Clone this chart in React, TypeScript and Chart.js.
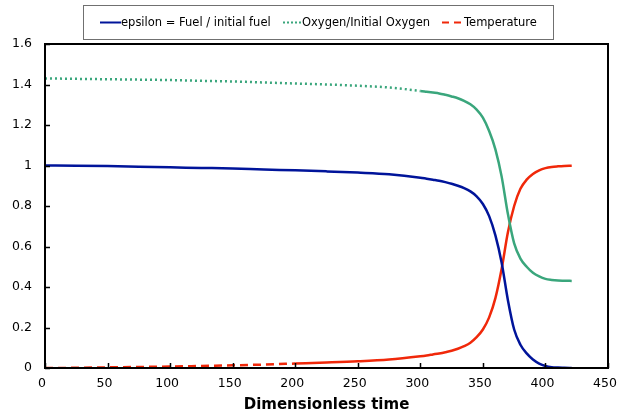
import React, { useEffect, useRef } from "react";
import { Chart, registerables } from "chart.js";

Chart.register(...registerables);

// ---- data ----
const times = [0, 25, 50, 75, 100, 125, 150, 175, 200, 225, 250, 275, 300, 305, 310, 315, 320, 325, 330, 335, 340, 345, 350, 355, 360, 365, 370, 375, 380, 385, 390, 395, 400, 405, 410, 415, 421];
const fuel = [1.0, 0.999, 0.997, 0.994, 0.991, 0.988, 0.985, 0.98, 0.976, 0.971, 0.965, 0.957, 0.94, 0.935, 0.93, 0.925, 0.918, 0.91, 0.9, 0.888, 0.872, 0.848, 0.81, 0.75, 0.655, 0.52, 0.335, 0.19, 0.115, 0.072, 0.042, 0.022, 0.01, 0.004, 0.002, 0.001, 0.0];
const oxygen = [1.43, 1.428, 1.426, 1.424, 1.422, 1.418, 1.415, 1.41, 1.405, 1.4, 1.394, 1.385, 1.368, 1.364, 1.36, 1.356, 1.349, 1.341, 1.332, 1.319, 1.302, 1.276, 1.236, 1.17, 1.08, 0.945, 0.76, 0.615, 0.54, 0.5, 0.47, 0.452, 0.44, 0.435, 0.432, 0.431, 0.43];
const temperature = [0, 0.001, 0.003, 0.005, 0.007, 0.01, 0.013, 0.017, 0.022, 0.027, 0.033, 0.042, 0.058, 0.062, 0.067, 0.072, 0.078, 0.085, 0.095, 0.108, 0.125, 0.152, 0.19, 0.25, 0.345, 0.49, 0.67, 0.8, 0.885, 0.93, 0.958, 0.976, 0.987, 0.993, 0.996, 0.998, 0.999];

const seriesLabels = ["epsilon = Fuel / initial fuel", "Oxygen/Initial Oxygen", "Temperature"];
const xTitle = "Dimensionless time";
const xMin = 0, xMax = 450, xStep = 50;
const yMin = 0, yMax = 1.6, yStep = 0.2;

const BLUE = "#00149a";
const GREEN = "#3aa67c";
const RED = "#f0280a";

const frameAndLegend = {
  id: "frameAndLegend",
  afterDraw(chart: any) {
    const ctx = chart.ctx;
    const a = chart.chartArea;
    const xs = chart.scales.x;
    const ys = chart.scales.y;
    ctx.save();
    // inside tick marks
    ctx.strokeStyle = "#000";
    ctx.lineWidth = 1.5;
    ctx.beginPath();
    xs.ticks.forEach((t: any) => {
      const px = Math.round(xs.getPixelForValue(t.value)) + 0.5;
      ctx.moveTo(px, a.bottom);
      ctx.lineTo(px, a.bottom - 5);
    });
    ys.ticks.forEach((t: any) => {
      const py = Math.round(ys.getPixelForValue(t.value)) + 0.5;
      ctx.moveTo(a.left, py);
      ctx.lineTo(a.left + 5, py);
    });
    ctx.stroke();
    // frame
    ctx.lineWidth = 2;
    ctx.strokeRect(a.left, a.top, a.right - a.left, a.bottom - a.top);

    // legend
    const lx = 83.5, ly = 5.5, lw = 470, lh = 34;
    ctx.fillStyle = "#fff";
    ctx.fillRect(lx, ly, lw, lh);
    ctx.strokeStyle = "#707070";
    ctx.lineWidth = 1;
    ctx.strokeRect(lx, ly, lw, lh);
    const items = [
      { x0: 100, x1: 121, tx: 121, color: BLUE, dash: [] as number[], w: 2 },
      { x0: 283, x1: 302, tx: 302, color: GREEN, dash: [2, 2], w: 2 },
      { x0: 442, x1: 461, tx: 464, color: RED, dash: [7, 5], w: 2 },
    ];
    const cy = 22.5;
    ctx.font = "11.5px 'DejaVu Sans'";
    ctx.textBaseline = "middle";
    ctx.textAlign = "left";
    items.forEach((it, i) => {
      ctx.strokeStyle = it.color;
      ctx.lineWidth = it.w;
      ctx.setLineDash(it.dash);
      ctx.beginPath();
      ctx.moveTo(it.x0, cy);
      ctx.lineTo(it.x1, cy);
      ctx.stroke();
      ctx.setLineDash([]);
      ctx.fillStyle = "#000";
      ctx.fillText(seriesLabels[i], it.tx, cy + 0.5);
    });
    ctx.restore();
  },
};

export default function App() {
  const ref = useRef<HTMLCanvasElement | null>(null);
  useEffect(() => {
    if (!ref.current) return;
    const mk = (vals: number[]) => times.map((t, i) => ({ x: t, y: vals[i] }));
    const chart = new Chart(ref.current, {
      type: "line",
      data: {
        datasets: [
          {
            label: seriesLabels[0],
            data: mk(fuel),
            borderColor: BLUE,
            borderWidth: 2.5,
            pointRadius: 0,
            cubicInterpolationMode: "monotone",
          },
          {
            label: seriesLabels[1],
            data: mk(oxygen),
            borderColor: GREEN,
            borderWidth: 2.5,
            pointRadius: 0,
            cubicInterpolationMode: "monotone",
            segment: {
              borderDash: (c: any) => (c.p0.parsed.x < 285 ? [2, 3] : []),
            },
          },
          {
            label: seriesLabels[2],
            data: mk(temperature),
            borderColor: RED,
            borderWidth: 2.5,
            pointRadius: 0,
            cubicInterpolationMode: "monotone",
            segment: {
              borderDash: (c: any) => (c.p0.parsed.x < 200 ? [8, 5] : []),
            },
          },
        ],
      },
      options: {
        responsive: false,
        animation: false,
        layout: { padding: { top: 44, right: 10, left: 0, bottom: 0 } },
        plugins: { legend: { display: false }, tooltip: { enabled: false } },
        scales: {
          x: {
            type: "linear",
            min: xMin,
            max: xMax,
            grid: { display: false, drawTicks: false },
            border: { display: false },
            ticks: {
              stepSize: xStep,
              color: "#000",
              padding: 8,
              labelOffset: -3,
              font: { family: "'DejaVu Sans'", size: 12.5 },
              maxRotation: 0,
            },
            title: {
              display: true,
              text: xTitle,
              color: "#000",
              font: { family: "'DejaVu Sans'", size: 15, weight: "bold" },
              padding: { top: 0, bottom: 0 },
            },
            afterFit: (s: any) => {
              s.height = 46;
              s.paddingLeft = 0;
              s.paddingRight = 0;
            },
          },
          y: {
            min: yMin,
            max: yMax,
            grid: { display: false, drawTicks: false },
            border: { display: false },
            ticks: {
              stepSize: yStep,
              color: "#000",
              padding: 13,
              font: { family: "'DejaVu Sans'", size: 12.5 },
              callback: (v: any) => String(Number(Number(v).toFixed(1))),
            },
            afterFit: (s: any) => {
              s.width = 45;
              s.paddingTop = 0;
              s.paddingBottom = 0;
            },
          },
        },
      },
      plugins: [frameAndLegend],
    });
    return () => chart.destroy();
  }, []);
  return (
    <div style={{ position: "absolute", left: 0, top: 0, width: 618, height: 414, background: "#fff" }}>
      <canvas ref={ref} width={618} height={414} />
    </div>
  );
}
